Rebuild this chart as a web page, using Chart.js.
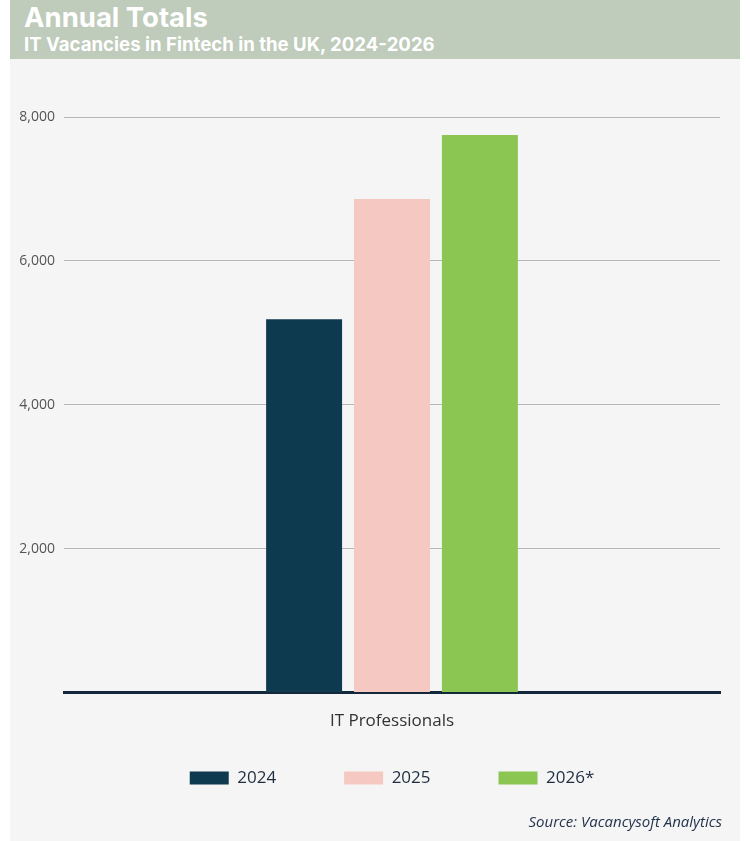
<!DOCTYPE html>
<html>
<head>
<meta charset="utf-8">
<script src="https://cdn.jsdelivr.net/npm/chart.js@4.4.1/dist/chart.umd.min.js"></script>
<style>
  body { margin: 0; background: #ffffff; width: 750px; height: 841px; overflow: hidden; font-family: "Open Sans", sans-serif; }
  #header { position: absolute; left: 10px; top: 0; width: 730px; height: 59px; background: #bfcbbb; }
  #header .t1 { position: absolute; left: 14px; top: 0px; color: #fff; font-weight: 700; font-size: 27.5px; font-family: "Inter", "Open Sans", sans-serif; }
  #header .t2 { position: absolute; left: 14px; top: 33px; color: #fff; font-weight: 700; font-size: 18.6px; font-family: "Inter", "Open Sans", sans-serif; }
  #panel { position: absolute; left: 10px; top: 59px; width: 730px; height: 782px; background: #f5f5f5; }
  #wrap { position: absolute; left: 0; top: 0; width: 730px; height: 790px; }
  #source { position: absolute; right: 18px; top: 752px; font-style: italic; font-size: 15px; color: #24344d; }
</style>
</head>
<body>
<div id="header">
  <div class="t1">Annual Totals</div>
  <div class="t2">IT Vacancies in Fintech in the UK, 2024-2026</div>
</div>
<div id="panel">
  <div id="wrap"><canvas id="myChart"></canvas></div>
  <div id="source">Source: Vacancysoft Analytics</div>
</div>
<script>
  // data
  var categories = ['IT Professionals'];
  var seriesNames = ['2024', '2025', '2026*'];
  var values2024 = [5190];
  var values2025 = [6860];
  var values2026 = [7750];
  var seriesColors = ['#0d3a4f', '#f5c8c2', '#8bc652'];
  var yTicks = [2000, 4000, 6000, 8000];

  // legend keeps its wide horizontal spacing but sits closer to the axis
  var legendUp = {
    id: 'legendUp',
    afterLayout: function (chart) {
      chart.legend.top = chart.chartArea.bottom + 9;
    }
  };

  var ctx = document.getElementById('myChart').getContext('2d');
  var myChart = new Chart(ctx, {
    type: 'bar',
    data: {
      labels: categories,
      datasets: [
        { label: seriesNames[0], data: values2024, backgroundColor: seriesColors[0] },
        { label: seriesNames[1], data: values2025, backgroundColor: seriesColors[1] },
        { label: seriesNames[2], data: values2026, backgroundColor: seriesColors[2] }
      ]
    },
    plugins: [legendUp],
    options: {
      responsive: true,
      maintainAspectRatio: false,
      animation: false,
      layout: { padding: { left: 0, right: 20, top: 58, bottom: 13 } },
      datasets: { bar: { categoryPercentage: 0.402, barPercentage: 0.864 } },
      plugins: {
        tooltip: { enabled: false },
        legend: {
          position: 'bottom',
          fullSize: false,
          labels: {
            boxWidth: 39,
            boxHeight: 13,
            padding: 68,
            color: '#1e2d40',
            font: { family: 'Open Sans', size: 17 }
          }
        }
      },
      scales: {
        x: {
          grid: { display: false },
          border: { display: true, color: '#13283a', width: 3 },
          ticks: { color: '#333333', font: { family: 'Open Sans', size: 17 }, padding: 10 }
        },
        y: {
          min: 0,
          max: 8000,
          afterFit: function (scale) { scale.width = 54; },
          afterBuildTicks: function (scale) {
            scale.ticks = [0].concat(yTicks).map(function (v) { return { value: v }; });
          },
          border: { display: false },
          grid: { color: '#b8b8b8', lineWidth: 1, drawTicks: false },
          ticks: {
            color: '#555555',
            padding: 9,
            font: { family: 'Open Sans', size: 14 },
            callback: function (v) { return v === 0 ? '' : v.toLocaleString('en-US'); }
          }
        }
      }
    }
  });
</script>
</body>
</html>
